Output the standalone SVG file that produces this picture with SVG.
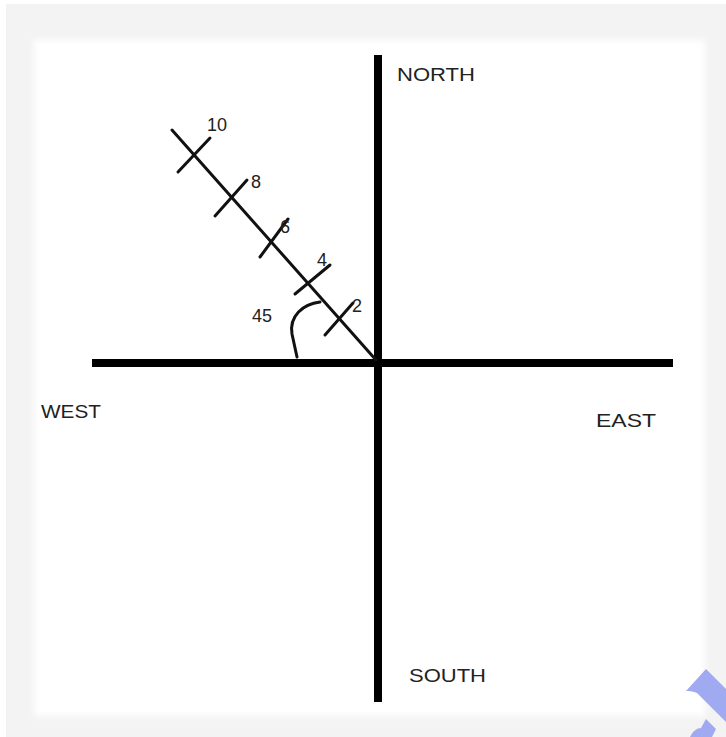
<svg xmlns="http://www.w3.org/2000/svg" width="726" height="737" viewBox="0 0 726 737">
  <defs>
    <filter id="soft" x="-5%" y="-5%" width="110%" height="110%">
      <feGaussianBlur stdDeviation="3"/>
    </filter>
    <style>
      .axis { stroke: #000; stroke-width: 8; stroke-linecap: butt; fill: none; }
      .thin { stroke: #111; stroke-width: 3; stroke-linecap: round; fill: none; }
      .lbl { font-family: "Liberation Sans", Arial, sans-serif; font-size: 19px; fill: #222; }
      .num { font-family: "Liberation Sans", Arial, sans-serif; font-size: 18px; fill: #222; }
    </style>
  </defs>

  <rect x="0" y="0" width="726" height="737" fill="#ffffff"/>
  <rect x="6" y="4" width="720" height="733" fill="#f3f3f3"/>
  <rect x="34" y="40" width="671" height="676" fill="#ffffff" filter="url(#soft)"/>

  <g id="connectors">
    <line id="axis-ns" class="axis" x1="378" y1="55" x2="378" y2="702"/>
    <line id="axis-ew" class="axis" x1="92" y1="363" x2="673" y2="363"/>
    <line id="bearing" class="thin" x1="172" y1="130" x2="376" y2="360"/>
    <path id="angle-arc" class="thin" d="M320,302 C303,304 289,316 292,334 L297,357"/>
  </g>

  <g id="ticks">
    <line class="thin" x1="178" y1="172" x2="210" y2="138"/>
    <line class="thin" x1="215" y1="216" x2="247" y2="180"/>
    <line class="thin" x1="260" y1="257" x2="288" y2="219"/>
    <line class="thin" x1="295" y1="294" x2="330" y2="265"/>
    <line class="thin" x1="325" y1="335" x2="353" y2="303"/>
  </g>

  <g id="north"><text class="lbl" x="397" y="81" textLength="78" lengthAdjust="spacingAndGlyphs">NORTH</text></g>
  <g id="south"><text class="lbl" x="409" y="682" textLength="77" lengthAdjust="spacingAndGlyphs">SOUTH</text></g>
  <g id="west"><text class="lbl" x="41" y="418" textLength="60" lengthAdjust="spacingAndGlyphs">WEST</text></g>
  <g id="east"><text class="lbl" x="596" y="427" textLength="60" lengthAdjust="spacingAndGlyphs">EAST</text></g>

  <g id="marks">
    <text class="num" x="207" y="131">10</text>
    <text class="num" x="251" y="188">8</text>
    <text class="num" x="280" y="233">6</text>
    <text class="num" x="317" y="266">4</text>
    <text class="num" x="352" y="312">2</text>
    <text class="num" x="252" y="322">45</text>
  </g>

  <g id="watermark" fill="#a0aaf0">
    <path d="M706,669 L726,689 L726,722 L699,695 C697,692 692,691 686,691 Z"/>
    <path d="M706,719 L716,729 L712,737 L690,737 C693,731 697,728 701,728 Z"/>
  </g>
</svg>
